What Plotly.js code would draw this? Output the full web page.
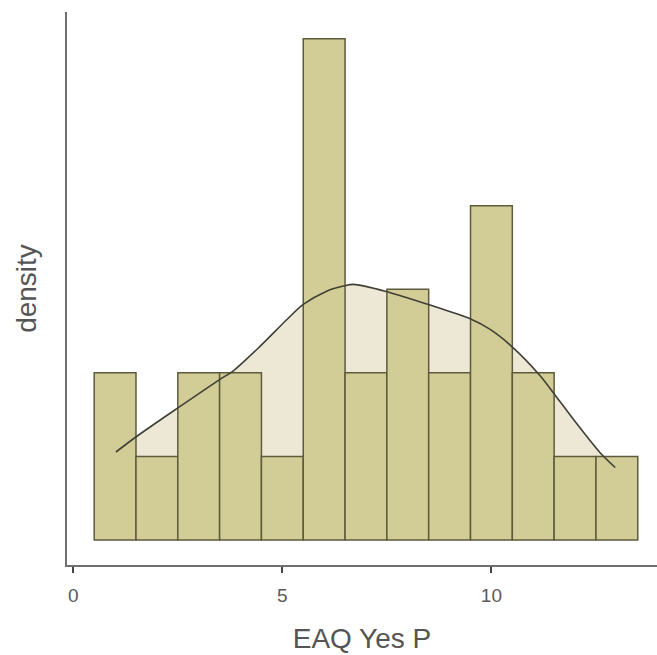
<!DOCTYPE html>
<html>
<head>
<meta charset="utf-8">
<script src="https://cdn.plot.ly/plotly-3.0.1.min.js"></script>
<style>html,body{margin:0;padding:0;background:#fff;}#chart{width:657px;height:655px;}</style>
</head>
<body>
<div id="chart"></div>
<script>
// Histogram bins (centres, width 1) and counts
const binCenters = [1, 2, 3, 4, 5, 6, 7, 8, 9, 10, 11, 12, 13];
const binCounts  = [2, 1, 2, 2, 1, 6, 2, 3, 2, 4, 2, 1, 1];
// Density curve (density units)
const curveX = [1.02, 1.53, 2.51, 3.51, 3.82, 4.47, 5.11, 5.50, 6.06, 6.46, 6.70, 7.46, 8.49, 9.49, 9.97, 10.49, 11.17, 11.48, 11.96, 12.60, 12.96];
const curveY = [0.0363, 0.0429, 0.0546, 0.0663, 0.0697, 0.0800, 0.0910, 0.0972, 0.1027, 0.1048, 0.1055, 0.1027, 0.0972, 0.0913, 0.0869, 0.0798, 0.0677, 0.0608, 0.0498, 0.0360, 0.0299];
const xTickVals = [0, 5, 10];
const xTickText = ['0', '5', '10'];
const xLabel = 'EAQ Yes P';
const yLabel = 'density';

const total = binCounts.reduce((a, b) => a + b, 0);
const binDensity = binCounts.map(c => c / total);

const traces = [
  { type: 'scatter', mode: 'lines', x: curveX, y: curveY, fill: 'tozeroy',
    fillcolor: '#ECE8D5', line: { width: 0, shape: 'spline', smoothing: 0.8 }, xaxis: 'x', yaxis: 'y', hoverinfo: 'skip' },
  { type: 'bar', x: binCenters, y: binDensity, width: 1,
    marker: { color: '#D2CC96', line: { color: '#5E5B3C', width: 1.5 } }, xaxis: 'x2', yaxis: 'y2' },
  { type: 'scatter', mode: 'lines', x: curveX, y: curveY,
    line: { color: '#3F4035', width: 1.6, shape: 'spline', smoothing: 0.8 }, xaxis: 'x2', yaxis: 'y2' }
];

const xr = [-0.15, 13.96];
const yr = [-0.3 / total, 6.32 / total];
const font = { family: 'Liberation Sans, Arial, sans-serif', color: '#555555' };

const layout = {
  width: 657, height: 655,
  margin: { l: 67, r: 0, t: 12, b: 90 },
  paper_bgcolor: '#ffffff', plot_bgcolor: '#ffffff',
  showlegend: false, bargap: 0,
  font: font,
  xaxis: {
    range: xr, showgrid: false, zeroline: false,
    showline: true, linecolor: '#707070', linewidth: 2,
    ticks: 'outside', ticklen: 6, tickwidth: 2, tickcolor: '#444444',
    tickvals: xTickVals, ticktext: xTickText, ticklabelstandoff: 6,
    tickfont: { size: 19, color: '#5a5a5a', family: font.family },
    title: { text: xLabel, font: { size: 28, color: '#555555', family: font.family }, standoff: 24 }
  },
  yaxis: {
    range: yr, showgrid: false, zeroline: false,
    showline: true, linecolor: '#707070', linewidth: 2,
    ticks: '', showticklabels: false,
    title: { text: yLabel, font: { size: 28, color: '#555555', family: font.family }, standoff: 20 }
  },
  xaxis2: { range: xr, overlaying: 'x', visible: false },
  yaxis2: { range: yr, overlaying: 'y', visible: false }
};

Plotly.newPlot('chart', traces, layout, { displayModeBar: false, staticPlot: true });
</script>
</body>
</html>
